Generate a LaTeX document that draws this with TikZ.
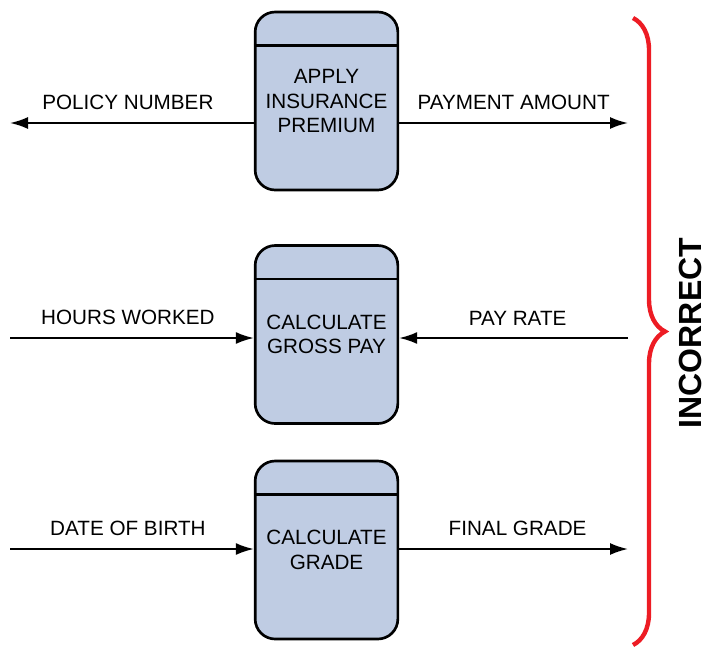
\documentclass[tikz,border=0pt]{standalone}
\usepackage{fontspec}
\setmainfont{Liberation Sans}
\usetikzlibrary{positioning,arrows.meta,decorations.pathreplacing}
\definecolor{procfill}{RGB}{191,204,227}
\definecolor{bracered}{RGB}{237,28,36}

\begin{document}
\begin{tikzpicture}[x=0.75pt, y=-0.75pt,
  font=\fontsize{15.5}{18.5}\selectfont,
  proc/.style={draw, line width=2pt, rounded corners=15pt, fill=procfill,
    align=center, minimum width=107pt, minimum height=133.5pt, inner sep=0pt},
  flow/.style={-{Latex[length=13.5pt,width=9pt]}, line width=1.5pt},
  lbl/.style={above=9pt, inner sep=0pt}
]
\useasboundingbox (0,0) rectangle (709,650);
\node[proc] (ins) at (326.5,101) {APPLY\\INSURANCE\\PREMIUM};
\node[proc] (gross) at (326.5,334.5) {CALCULATE\\GROSS PAY};
\node[proc] (grade) at (326.5,550) {CALCULATE\\GRADE};
\foreach \p in {ins,gross,grade}
  \draw[line width=2pt] ([yshift=-26pt]\p.north west) -- ([yshift=-26pt]\p.north east);
% free ends of the flows
\coordinate (policy) at (10,123);
\coordinate (payment) at (628,123);
\coordinate (hours) at (10,338);
\coordinate (rate) at (628,338);
\coordinate (birth) at (10,549);
\coordinate (final) at (628,549);
\draw[flow] (ins.west |- policy) -- node[lbl, xshift=-3pt] {POLICY NUMBER} (policy);
\draw[flow] (ins.east |- payment) -- node[lbl] {PAYMENT AMOUNT} (payment);
\draw[flow] (hours) -- node[lbl, xshift=-3pt] {HOURS WORKED} (gross.west |- hours);
\draw[flow] (rate) -- node[lbl, xshift=3pt] {PAY RATE} (gross.east |- rate);
\draw[flow] (birth) -- node[lbl, xshift=-3pt] {DATE OF BIRTH} (grade.west |- birth);
\draw[flow] (grade.east |- final) -- node[lbl, xshift=3pt] {FINAL GRADE} (final);
% brace
\coordinate (btop) at (633,18);
\coordinate (bbot) at (633,645);
\draw[bracered, line width=3.3pt, decorate, decoration={brace, amplitude=24pt}]
  (btop) -- (bbot);
\node[rotate=90, inner sep=0pt, font=\fontsize{24}{28}\selectfont\bfseries] (wrong) at (690,333) {INCORRECT};
\end{tikzpicture}
\end{document}
